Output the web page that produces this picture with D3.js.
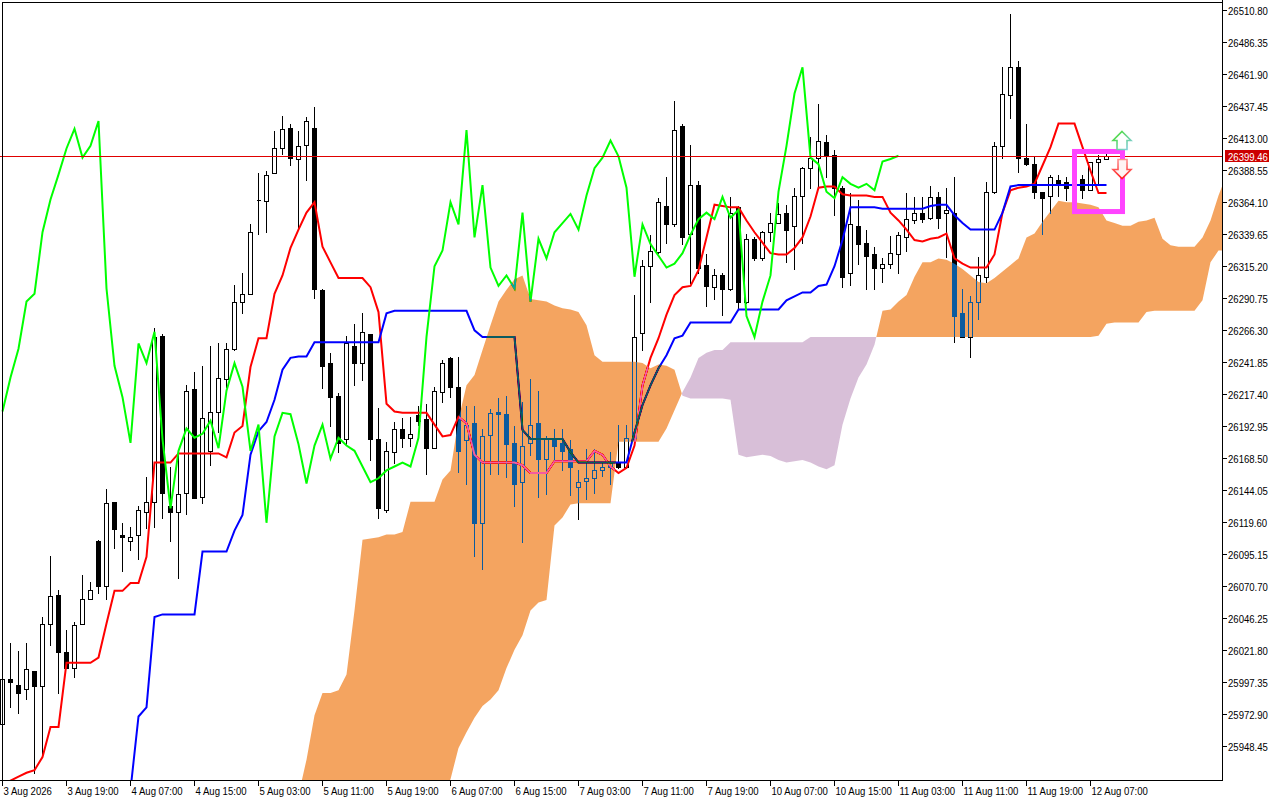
<!DOCTYPE html>
<html><head><meta charset="utf-8">
<script src="https://cdn.jsdelivr.net/npm/d3@7"></script>
<style>html,body{margin:0;padding:0;background:#fff;overflow:hidden}</style>
</head><body>
<svg id="chart" width="1280" height="800"></svg>
<script>
// ---------- DATA ----------
const timeLabels = ["3 Aug 2026","3 Aug 19:00","4 Aug 07:00","4 Aug 15:00","5 Aug 03:00","5 Aug 11:00","5 Aug 19:00","6 Aug 07:00","6 Aug 15:00","7 Aug 03:00","7 Aug 11:00","7 Aug 19:00","10 Aug 07:00","10 Aug 15:00","11 Aug 03:00","11 Aug 11:00","11 Aug 19:00","12 Aug 07:00"];
const priceTicks = ["26510.80","26486.35","26461.90","26437.45","26413.00","26388.55","26364.10","26339.65","26315.20","26290.75","26266.30","26241.85","26217.40","26192.95","26168.50","26144.05","26119.60","26095.15","26070.70","26046.25","26021.80","25997.35","25972.90","25948.45"];

const opens = [25965,26000,25995,25992,26006,25994,26042,26064,26020,26008,
 26042,26061,26105,26071,26135,26110,26105,26110,26127,26135,
 26262,26132,26127,26142,26221,26139,26174,26204,26229,26252,
 26288,26294,26366,26365,26386,26405,26421,26397,26408,26421,
 26297,26241,26216,26183,26254,26241,26263,26183,26129,26173,
 26191,26184,26201,26198,26176,26219,26245,26223,26182,26195,
 26119,26186,26204,26202,26180,26150,26180,26195,26168,26184,
 26180,26175,26146,26151,26153,26159,26162,26165,26162,26184,
 26264,26315,26326,26361,26347,26422,26340,26377,26316,26299,
 26308,26298,26360,26288,26336,26321,26341,26348,26356,26346,
 26369,26390,26398,26410,26400,26375,26310,26346,26333,26324,
 26314,26317,26324,26337,26350,26356,26352,26368,26356,26356,
 26279,26261,26288,26307,26372,26407,26446,26467,26398,26393,
 26372,26369,26381,26379,26375,26382,26373,26395,26397];
const highs = [26005,26027,26021,26027,26006,26047,26094,26068,26037,26043,
 26079,26074,26106,26145,26135,26119,26116,26132,26154,26268,
 26263,26162,26175,26224,26234,26239,26254,26256,26256,26301,
 26310,26347,26386,26388,26418,26430,26424,26418,26429,26437,
 26298,26249,26218,26262,26271,26279,26263,26207,26181,26196,
 26199,26200,26208,26210,26223,26243,26246,26246,26208,26208,
 26191,26206,26214,26216,26193,26211,26229,26220,26185,26191,
 26191,26182,26159,26175,26175,26165,26173,26194,26194,26293,
 26320,26339,26367,26383,26441,26424,26408,26380,26324,26313,
 26310,26368,26361,26340,26337,26342,26356,26363,26362,26375,
 26391,26414,26439,26415,26404,26376,26371,26366,26343,26330,
 26321,26338,26341,26371,26368,26368,26376,26372,26375,26383,
 26298,26292,26322,26379,26410,26467,26508,26472,26424,26399,
 26372,26385,26385,26383,26381,26385,26395,26400,26401];
const lows = [25961,25978,25974,25984,25928,25940,26026,25989,26008,26001,
 26042,26061,26065,26061,26100,26082,26098,26091,26115,26116,
 26123,26105,26077,26126,26138,26134,26163,26188,26223,26251,
 26279,26294,26340,26341,26386,26401,26392,26343,26381,26291,
 26222,26193,26173,26179,26224,26228,26167,26123,26127,26165,
 26177,26178,26194,26156,26176,26211,26215,26158,26149,26094,
 26084,26156,26156,26154,26132,26104,26171,26139,26141,26167,
 26159,26140,26122,26137,26142,26155,26149,26161,26161,26182,
 26251,26288,26325,26333,26346,26332,26302,26310,26285,26290,
 26278,26297,26283,26287,26320,26320,26334,26348,26318,26313,
 26333,26375,26375,26383,26354,26299,26301,26317,26298,26298,
 26303,26314,26310,26327,26348,26349,26351,26344,26322,26257,
 26261,26246,26275,26303,26371,26398,26428,26387,26392,26367,
 26340,26356,26369,26366,26372,26367,26373,26377,26397];
const closes = [26000,25997,25989,26007,25994,26042,26063,26020,26008,26041,
 26061,26068,26071,26134,26114,26108,26108,26129,26135,26261,
 26142,26127,26141,26220,26138,26199,26204,26230,26252,26288,
 26294,26341,26366,26385,26405,26420,26398,26407,26426,26298,
 26239,26215,26180,26256,26241,26265,26183,26130,26174,26191,
 26184,26187,26197,26176,26220,26241,26223,26174,26194,26119,
 26185,26203,26202,26179,26149,26178,26194,26168,26184,26178,
 26174,26162,26150,26153,26159,26162,26165,26162,26184,26261,
 26315,26327,26364,26347,26419,26337,26377,26314,26300,26308,
 26298,26356,26288,26336,26321,26341,26348,26355,26343,26369,
 26390,26398,26411,26399,26375,26307,26347,26332,26323,26314,
 26317,26325,26339,26351,26356,26351,26368,26352,26358,26277,
 26261,26288,26308,26372,26407,26447,26467,26398,26393,26372,
 26367,26383,26378,26375,26378,26373,26395,26397,26399.46];

// Tenkan-sen (red), one value per bar
const tenkan = [25919,25922,25925,25928,25930,25940,25963,25963,26012,26012,
 26012,26012,26016,26042,26067,26067,26073,26073,26093,26165,
 26165,26165,26172,26172,26172,26172,26172,26172,26169,26188,
 26193,26238,26260,26260,26294,26308,26329,26343,26356,26364,
 26330,26318,26306,26306,26306,26306,26299,26280,26210,26204,
 26203,26203,26203,26203,26194,26185,26186,26200,26195,26171,
 26165,26165,26165,26165,26165,26163,26157,26157,26157,26166,
 26166,26166,26166,26166,26174,26171,26162,26157,26161,26178,
 26224,26245,26260,26278,26293,26299,26300,26312,26337,26362,
 26361,26360,26360,26350,26341,26333,26325,26324,26324,26329,
 26337,26353,26375,26376,26376,26370,26369,26369,26369,26368,
 26368,26356,26350,26343,26335,26334,26336,26337,26340,26321,
 26317,26314,26314,26314,26324,26356,26373,26375,26376,26378,
 26392,26406,26424,26424,26424,26406,26388,26371,26371];

// Kijun-sen (blue), visible from bar 16
const kijunStart = 16;
const kijun = [25915,25971,25978,26047,26049,26049,26049,26049,26049,26097,
 26097,26097,26097,26113,26125,26171,26189,26196,26213,26236,
 26245,26246,26246,26257,26257,26257,26257,26257,26257,26257,
 26257,26257,26279,26281,26281,26281,26281,26281,26281,26281,
 26281,26281,26281,26266,26261,26261,26261,26261,26261,26190,
 26183,26183,26183,26183,26183,26173,26165,26165,26165,26165,
 26165,26165,26165,26188,26209,26224,26237,26247,26260,26262,
 26272,26272,26272,26272,26272,26272,26282,26282,26282,26282,
 26282,26282,26289,26292,26295,26295,26300,26301,26315,26335,
 26360,26360,26360,26360,26359,26359,26359,26359,26359,26359,
 26361,26362,26362,26354,26348,26343,26343,26343,26343,26356,
 26376,26377,26377,26377,26377,26377,26377,26377,26377,26377,
 26377,26377,26377];

// Chikou span (green) = closes displaced back by 26 bars
const chikouShift = 26;

// Senkou spans (cloud), from bar 37 (projected 26 bars ahead)
const cloudStart = 37;
const senkouA = [25911,25938,25972,25989,25989,25991,26003,26052,26106,26107,
 26108,26110,26110,26112,26135,26135,26135,26135,26152,26159,
 26198,26224,26232,26251,26270,26288,26297,26305,26308,26290,
 26289,26288,26285,26283,26282,26280,26270,26247,26242,26242,
 26242,26242,26242,26241,26237,26240,26239,26236,26216,26214,
 26214,26214,26214,26214,26213,26171,26169,26170,26171,26170,
 26167,26165,26166,26167,26165,26162,26160,26163,26194,26214,
 26230,26240,26255,26281,26282,26288,26293,26307,26318,26318,
 26321,26320,26317,26313,26308,26303,26302,26306,26311,26316,
 26321,26337,26340,26349,26357,26365,26364,26364,26363,26362,
 26360,26350,26348,26346,26346,26349,26350,26352,26336,26331,
 26330,26330,26330,26337,26350,26369,26385];
const senkouB = [25905,25905,25905,25905,25905,25905,25905,25905,25905,25905,
 25905,25905,25905,25905,25905,25905,25905,25905,25911,25923,
 25947,25959,25970,25979,25984,25991,26008,26022,26033,26052,
 26058,26060,26117,26123,26133,26134,26134,26134,26134,26134,
 26181,26181,26181,26181,26181,26181,26191,26205,26219,26230,
 26245,26249,26251,26251,26257,26257,26257,26257,26257,26257,
 26257,26257,26257,26257,26261,26261,26261,26261,26261,26261,
 26261,26261,26261,26261,26261,26261,26261,26261,26261,26261,
 26261,26261,26261,26261,26261,26261,26261,26261,26261,26261,
 26261,26261,26261,26261,26261,26261,26261,26261,26261,26261,
 26262,26271,26272,26272,26272,26272,26280,26281,26281,26281,
 26281,26281,26281,26289,26318,26327,26327];

const currentPrice = 26399.46;
const signalBox = {fromBar: 134, toBar: 140, high: 26402.7, low: 26356.8};
const arrowUp = {bar: 139.94, price: 26418};
const arrowDown = {bar: 139.94, price: 26382};

// ---------- CHART ----------
const W = 1280, H = 800, plotR = 1222, plotB = 780;
const svg = d3.select('#chart');
const x = d3.scaleLinear().domain([0, 152]).range([2.5, 2.5 + 8 * 152]);
const y = d3.scaleLinear().domain([25948.45, 26510.80]).range([746, 10]);

svg.append('rect').attr('width', W).attr('height', H).attr('fill', '#fff');
const defs = svg.append('defs');
defs.append('clipPath').attr('id', 'plotClip').append('rect')
  .attr('x', 0).attr('y', 0).attr('width', plotR).attr('height', plotB);

const plot = svg.append('g').attr('clip-path', 'url(#plotClip)');
plot.append('rect').attr('x', 0).attr('y', 0).attr('width', plotR).attr('height', plotB).attr('fill', '#fff');

// candles
const idx = d3.range(opens.length);
const cg = plot.append('g').attr('shape-rendering', 'crispEdges');
cg.selectAll('line').data(idx).join('line')
  .attr('x1', i => x(i)).attr('x2', i => x(i))
  .attr('y1', i => Math.round(y(highs[i]))).attr('y2', i => Math.round(y(lows[i])) + 1)
  .attr('stroke', '#000').attr('stroke-width', 1);
cg.selectAll('path').data(idx).join('path')
  .attr('d', i => {
    const top = Math.round(y(Math.max(opens[i], closes[i]))) + 0.5;
    const bot = Math.round(y(Math.min(opens[i], closes[i]))) + 0.5;
    return `M${x(i) - 2},${top}h4v${bot - top}h-4Z`;
  })
  .attr('fill', i => closes[i] >= opens[i] ? '#fff' : '#000')
  .attr('stroke', '#000').attr('stroke-width', 1);

// ichimoku lines
const lg = plot.append('g').attr('fill', 'none').attr('stroke-width', 2);
lg.append('path').datum(tenkan)
  .attr('d', d3.line().x((d, i) => x(i)).y(d => y(d)))
  .attr('stroke', '#ff0000');
lg.append('path').datum(kijun)
  .attr('d', d3.line().x((d, i) => x(i + kijunStart)).y(d => y(d)))
  .attr('stroke', '#0000ff');
lg.append('path').datum(closes.slice(chikouShift))
  .attr('d', d3.line().x((d, i) => x(i)).y(d => y(d)))
  .attr('stroke', '#00ff00');

// cloud (drawn as inverted blend like MT5)
const cIdx = d3.range(senkouA.length).map(k => k + cloudStart);
const yA = k => y(senkouA[k - cloudStart]);
const yB = k => y(senkouB[k - cloudStart]);
defs.append('clipPath').attr('id', 'aboveB').append('path')
  .attr('d', d3.area().x(k => x(k)).y0(-50).y1(yB)(cIdx));
defs.append('clipPath').attr('id', 'aboveA').append('path')
  .attr('d', d3.area().x(k => x(k)).y0(-50).y1(yA)(cIdx));
const blend = plot.append('g').style('mix-blend-mode', 'difference');
blend.append('path')
  .attr('d', d3.area().x(k => x(k)).y0(yA).y1(plotB + 50)(cIdx))
  .attr('fill', '#0b5b9f').attr('clip-path', 'url(#aboveB)');
blend.append('path')
  .attr('d', d3.area().x(k => x(k)).y0(yB).y1(plotB + 50)(cIdx))
  .attr('fill', '#274027').attr('clip-path', 'url(#aboveA)');

// current price line
const py = Math.round(y(currentPrice)) + 0.5;
plot.append('line').attr('x1', 0).attr('x2', plotR).attr('y1', py).attr('y2', py)
  .attr('stroke', '#e00000').attr('stroke-width', 1).attr('shape-rendering', 'crispEdges');

// signal box
svg.append('rect')
  .attr('x', x(signalBox.fromBar)).attr('y', y(signalBox.high))
  .attr('width', x(signalBox.toBar) - x(signalBox.fromBar))
  .attr('height', y(signalBox.low) - y(signalBox.high))
  .attr('fill', 'none').attr('stroke', '#ff44ff').attr('stroke-width', 5);

// arrows
const grad1 = defs.append('linearGradient').attr('id', 'gUp').attr('x1', 0).attr('y1', 0).attr('x2', 1).attr('y2', 1);
grad1.append('stop').attr('offset', '0%').attr('stop-color', '#44dd22');
grad1.append('stop').attr('offset', '100%').attr('stop-color', '#88ccee');
const grad2 = defs.append('linearGradient').attr('id', 'gDn').attr('x1', 0).attr('y1', 0).attr('x2', 0).attr('y2', 1);
grad2.append('stop').attr('offset', '0%').attr('stop-color', '#ff9090');
grad2.append('stop').attr('offset', '100%').attr('stop-color', '#ff2020');
const upShape = [[0,0],[9,9],[5,9],[5,18],[-5,18],[-5,9],[-9,9]];
const dnShape = [[0,0],[9,-9],[5,-9],[5,-19],[-4,-19],[-4,-9],[-9,-9]];
const ax = x(arrowUp.bar), ayU = y(arrowUp.price), ayD = y(arrowDown.price);
svg.append('path').attr('d', d3.line()(upShape.map(p => [ax + p[0], ayU + p[1]])) + 'Z')
  .attr('fill', '#ffffff').attr('stroke', 'url(#gUp)').attr('stroke-width', 1.6);
svg.append('path').attr('d', d3.line()(dnShape.map(p => [ax + p[0], ayD + p[1]])) + 'Z')
  .attr('fill', '#fff4f4').attr('stroke', 'url(#gDn)').attr('stroke-width', 1.6);

// frame & axes
const ax_g = svg.append('g').attr('shape-rendering', 'crispEdges').attr('stroke', '#000');
ax_g.append('line').attr('x1', 2.5).attr('x2', 2.5).attr('y1', 2).attr('y2', plotB + 0.5);
ax_g.append('line').attr('x1', 2).attr('x2', plotR + 0.5).attr('y1', 2.5).attr('y2', 2.5);
ax_g.append('line').attr('x1', plotR + 0.5).attr('x2', plotR + 0.5).attr('y1', 0).attr('y2', plotB + 1);
ax_g.append('line').attr('x1', 0).attr('x2', plotR + 1).attr('y1', plotB + 0.5).attr('y2', plotB + 0.5);

const fontCss = 'font-family:"Liberation Sans",Arial,sans-serif;font-size:11px';
priceTicks.forEach(t => {
  const ty = Math.round(y(+t)) + 0.5;
  ax_g.append('line').attr('x1', plotR).attr('x2', plotR + 5).attr('y1', ty).attr('y2', ty);
  svg.append('text').attr('transform', `translate(${plotR + 6},${ty + 4}) scale(0.87,1)`)
    .attr('style', fontCss).attr('fill', '#000').text(t);
});
timeLabels.forEach((t, k) => {
  const tx = x(k * 8);
  ax_g.append('line').attr('x1', tx).attr('x2', tx).attr('y1', plotB).attr('y2', plotB + 6);
  svg.append('text').attr('transform', `translate(${tx + 1},${plotB + 15}) scale(0.87,1)`)
    .attr('style', fontCss).attr('fill', '#000').text(t);
});

// current price label
svg.append('rect').attr('x', plotR + 3).attr('y', py - 6.5).attr('width', 44).attr('height', 12)
  .attr('fill', '#cc0000');
svg.append('text').attr('transform', `translate(${plotR + 6},${py + 4}) scale(0.87,1)`)
  .attr('style', fontCss).attr('fill', '#fff').text(currentPrice.toFixed(2));
</script>
</body></html>
